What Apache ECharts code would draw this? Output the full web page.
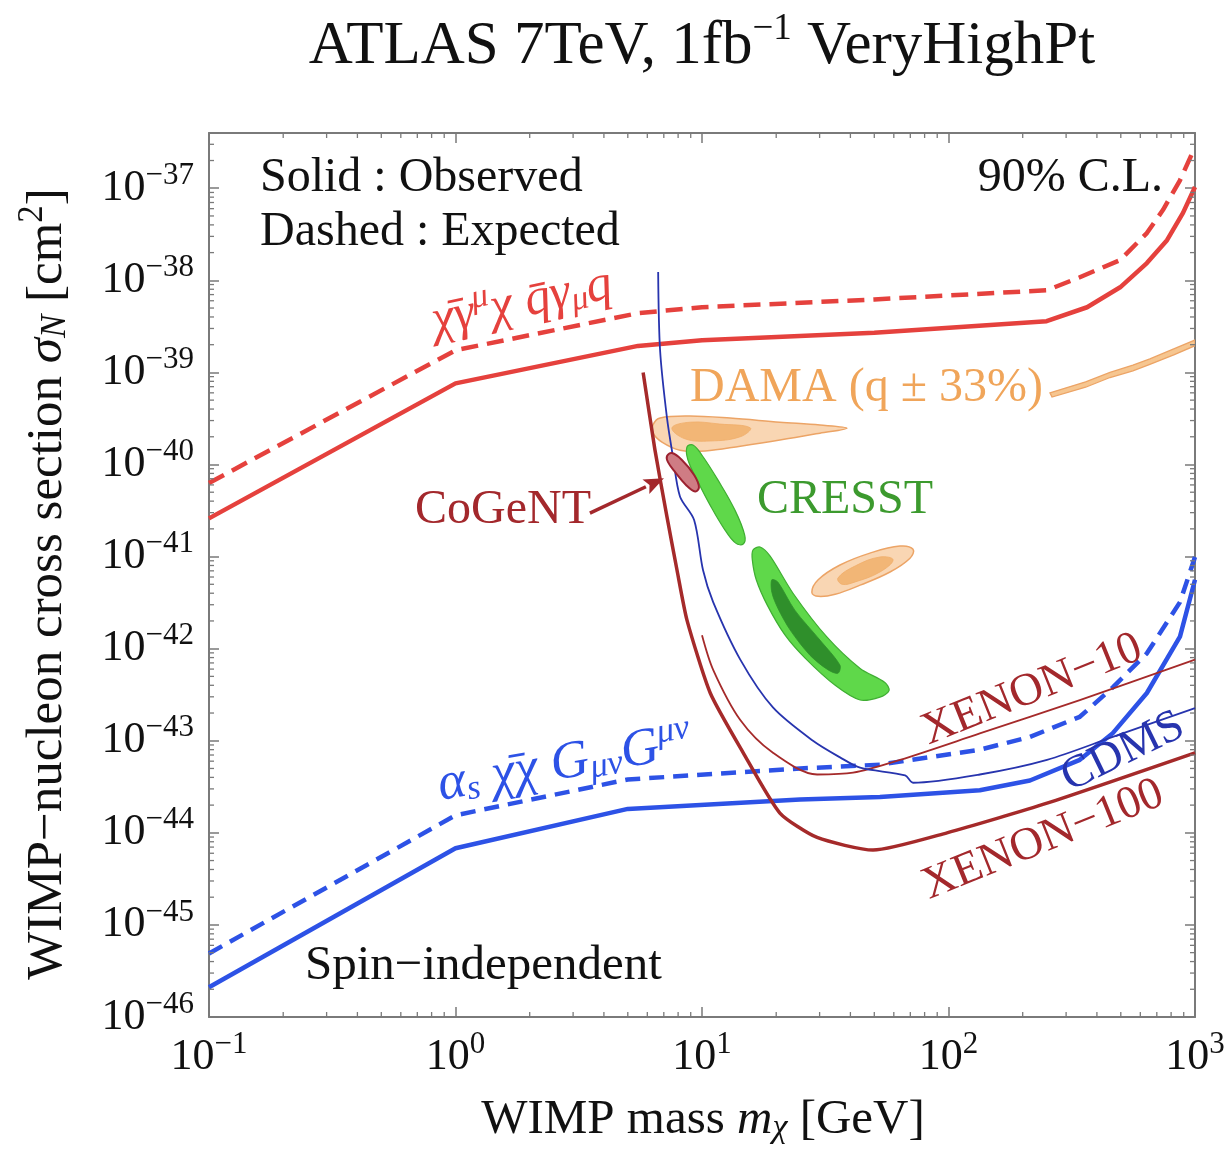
<!DOCTYPE html>
<html><head><meta charset="utf-8">
<script src="https://cdn.jsdelivr.net/npm/echarts@6/dist/echarts.min.js"></script>
<style>html,body{margin:0;padding:0;background:#fff}#c{width:1228px;height:1152px}</style>
</head><body><div id="c"></div>
<script>
// ---- axis ticks ----
const xTickExponents = [-1, 0, 1, 2, 3];
const yTickExponents = [-46, -45, -44, -43, -42, -41, -40, -39, -38, -37];
const yTopValue = 3.98e-37;

// ---- limit curves [mass GeV, sigma cm^2] ----
const vectorObserved = [[0.1,2.6e-41],[1,7.6e-40],[5.5,1.94e-39],[10,2.24e-39],[50,2.7e-39],[250,3.6e-39],[365,5.1e-39],[497,8.4e-39],[638,1.54e-38],[770,2.73e-38],[894,5.4e-38],[1000,1.03e-37]];
const vectorExpected = [[0.1,6.3e-41],[1,1.74e-39],[5.5,4.4e-39],[10,5.1e-39],[50,6.2e-39],[251,7.8e-39],[341,1.08e-38],[497,1.66e-38],[638,3.26e-38],[741,5.8e-38],[869,1.22e-37],[1000,2.8e-37]];
const gluonObserved = [[0.1,2.1e-46],[1,6.8e-45],[5,1.82e-44],[25,2.3e-44],[52.7,2.45e-44],[134,2.9e-44],[214,3.7e-44],[341,6.2e-44],[464,1.21e-43],[638,3.3e-43],[869,1.35e-42],[1000,5.6e-42]];
const gluonExpected = [[0.1,4.9e-46],[1,1.55e-44],[5,3.8e-44],[25,5.0e-44],[52.7,5.5e-44],[134,8.0e-44],[214,1.1e-43],[341,1.82e-43],[464,3.8e-43],[638,8.9e-43],[869,3.2e-42],[1000,9.9e-42]];
const xenon100 = [[5.77,1.0e-39],[6.44,1.45e-40],[7.21,2.7e-41],[7.92,7.1e-42],[8.69,2.04e-42],[10.8,3.3e-43],[14.7,7.4e-44],[20.7,1.64e-44],[29.3,8.9e-45],[49.4,6.5e-45],[98.6,1.0e-44],[251,2.1e-44],[1000,7.4e-44]];
const xenon10 = [[10,1.4e-42],[11.1,5.9e-43],[14.3,1.68e-43],[19.4,7.4e-44],[29.3,4.3e-44],[41,4.5e-44],[63.6,6.2e-44],[134,1.2e-43],[341,2.76e-43],[1000,7.6e-43]];
const cdms = [[6.64,1.23e-38],[6.76,1.74e-39],[7.21,3.2e-40],[7.63,1.2e-40],[8.14,4.5e-41],[9.29,2.5e-41],[10.1,7.1e-42],[11.1,3.2e-42],[14.3,7.6e-43],[19.4,2.3e-43],[28.2,1.0e-43],[36.3,6.6e-44],[43.8,5.1e-44],[66.7,4.2e-44],[71.8,3.5e-44],[134,4.3e-44],[251,6.2e-44],[464,1.1e-43],[1000,2.26e-43]];

// ---- signal regions [mass GeV, sigma cm^2] ----
const damaLargeOuter = [[6.33,2.7e-40],[6.76,3.2e-40],[8.94,3.36e-40],[13.0,3.19e-40],[20.7,2.88e-40],[30.1,2.68e-40],[38.7,2.48e-40],[30.1,2.19e-40],[20.7,1.84e-40],[14.3,1.58e-40],[10.3,1.40e-40],[8.14,1.43e-40],[6.88,1.75e-40],[6.33,2.19e-40]];
const damaLargeInner = [[7.55,2.5e-40],[8.94,2.88e-40],[11.8,2.75e-40],[15.7,2.5e-40],[14.3,2.0e-40],[10.8,1.8e-40],[8.53,1.9e-40]];
const damaSmallOuter = [[27.9,4.1e-42],[29.6,5.6e-42],[36.3,8.1e-42],[48.0,1.09e-41],[63.5,1.30e-41],[71.8,1.20e-41],[69.8,9.6e-42],[57.9,6.8e-42],[43.8,4.9e-42],[34.7,3.9e-42],[29.6,3.7e-42]];
const damaSmallInner = [[35.6,5.85e-42],[41.8,7.9e-42],[52.7,9.9e-42],[59.6,9.2e-42],[52.7,6.8e-42],[41.8,5.3e-42],[37.0,5.0e-42]];
const damaBand = [[258,6.0e-40],[360,7.9e-40],[452,1.0e-39],[560,1.2e-39],[656,1.4e-39],[820,1.8e-39],[1000,2.25e-39],[1000,1.95e-39],[820,1.55e-39],[656,1.22e-39],[560,1.04e-39],[452,8.8e-40],[360,6.9e-40],[263,5.4e-40]];
const cresstUpper = [[8.69,1.55e-40],[9.19,1.63e-40],[10.0,1.26e-40],[11.6,6.8e-41],[13.6,3.2e-41],[14.9,1.71e-41],[14.7,1.37e-41],[13.7,1.40e-41],[12.4,1.94e-41],[10.8,3.6e-41],[9.55,6.8e-41],[8.77,1.12e-40]];
const cresstLower = [[16.1,1.18e-41],[17.2,1.27e-41],[18.9,1.01e-41],[23.4,4.0e-42],[32.1,1.34e-42],[43.8,6.1e-43],[55.2,4.3e-43],[57.4,3.5e-43],[52.7,2.98e-43],[43.8,2.77e-43],[34.7,4.0e-43],[26.2,7.9e-43],[21.7,1.41e-42],[18.4,2.97e-42],[16.6,5.6e-42],[16.0,9.2e-42]];
const cresstCore = [[19.2,5.6e-42],[20.3,5.3e-42],[23.8,2.62e-42],[30.1,1.24e-42],[36.3,6.6e-43],[35.6,5.4e-43],[32.4,5.9e-43],[27.4,8.5e-43],[22.8,1.59e-42],[20.3,2.76e-42],[19.2,4.1e-42]];
const cogent = [[7.21,1.23e-40],[7.55,1.33e-40],[8.29,1.12e-40],[9.29,7.7e-41],[9.72,5.7e-41],[9.38,5.1e-41],[8.61,6.0e-41],[7.77,8.3e-41],[7.28,1.06e-40]];
const cogentArrow = [[3.51,2.96e-41],[7.01,7.1e-41]];

const L = Math.log10;
const SERIF = '"Liberation Serif","DejaVu Serif",serif';
const FRAME = '#7a7a7a';
const xMinE = xTickExponents[0], xMaxE = xTickExponents[xTickExponents.length - 1];
const yMinE = yTickExponents[0], yMaxE = L(yTopValue);
const isInt = v => Math.abs(v - Math.round(v)) < 1e-6;
const expStr = v => { const r = Math.round(v); return r < 0 ? '\u2212' + (-r) : '' + r; };

const xMinorValues = [], yMinorValues = [];
for (let i = 0; i < xTickExponents.length - 1; i++)
  for (let k = 2; k <= 9; k++) xMinorValues.push(k * Math.pow(10, xTickExponents[i]));
for (let i = 0; i < yTickExponents.length; i++)
  for (let k = 2; k <= 9; k++) { const v = k * Math.pow(10, yTickExponents[i]); if (L(v) < yMaxE) yMinorValues.push(v); }

const tickRich = {
  b: { fontSize: 44, fontFamily: SERIF, color: '#111' },
  s: { fontSize: 31, fontFamily: SERIF, color: '#111', padding: [0, 0, 25, 0] }
};
const labelFmt = v => isInt(v) ? '{b|10}{s|' + expStr(v) + '}' : '';

function axisCommon(extra) {
  return Object.assign({
    type: 'value', splitLine: { show: false },
    axisLine: { show: true, onZero: false, lineStyle: { color: FRAME, width: 2 } },
    axisTick: { show: true, inside: true, length: 10, lineStyle: { color: FRAME, width: 1.5 } },
    minorTick: { show: false }
  }, extra);
}

function minorTicks(values, dim) {
  return {
    type: 'custom', coordinateSystem: 'cartesian2d', silent: true, clip: false, z: 6,
    data: values.map(v => dim === 'x' ? [L(v), yMinE] : [xMinE, L(v)]),
    renderItem(params, api) {
      const cs = params.coordSys;
      const p = api.coord([api.value(0), api.value(1)]);
      const style = { stroke: FRAME, lineWidth: 1.3 };
      if (dim === 'x') {
        const yb = cs.y + cs.height;
        return { type: 'group', children: [
          { type: 'line', shape: { x1: p[0], y1: yb, x2: p[0], y2: yb - 5 }, style },
          { type: 'line', shape: { x1: p[0], y1: cs.y, x2: p[0], y2: cs.y + 5 }, style }
        ]};
      }
      const xr = cs.x + cs.width;
      return { type: 'group', children: [
        { type: 'line', shape: { x1: cs.x, y1: p[1], x2: cs.x + 5, y2: p[1] }, style },
        { type: 'line', shape: { x1: xr, y1: p[1], x2: xr - 5, y2: p[1] }, style }
      ]};
    }
  };
}

function region(points, fill, stroke, lw, smooth, z) {
  return {
    type: 'custom', coordinateSystem: 'cartesian2d', silent: true, clip: true, z: z || 2,
    data: [[L(points[0][0]), L(points[0][1])]],
    renderItem(params, api) {
      return { type: 'polygon',
        shape: { points: points.map(p => api.coord([L(p[0]), L(p[1])])), smooth: smooth },
        style: { fill: fill, stroke: stroke, lineWidth: lw } };
    }
  };
}

function curve(data, color, width, dash, smooth) {
  return {
    type: 'line', data: data.map(p => [L(p[0]), L(p[1])]), symbol: 'none', showSymbol: false,
    smooth: smooth || false, silent: true, z: 4, clip: true,
    lineStyle: { color: color, width: width, type: dash || 'solid', cap: 'butt', join: 'round' }
  };
}

const arrowSeries = {
  type: 'custom', coordinateSystem: 'cartesian2d', silent: true, clip: false, z: 5,
  data: [[L(cogentArrow[0][0]), L(cogentArrow[0][1])]],
  renderItem(params, api) {
    const a = api.coord([L(cogentArrow[0][0]), L(cogentArrow[0][1])]);
    const b = api.coord([L(cogentArrow[1][0]), L(cogentArrow[1][1])]);
    const dx = b[0] - a[0], dy = b[1] - a[1], len = Math.hypot(dx, dy);
    const ux = dx / len, uy = dy / len, hl = 20, hw = 8;
    const bx = b[0] - ux * hl, by = b[1] - uy * hl;
    return { type: 'group', children: [
      { type: 'line', shape: { x1: a[0], y1: a[1], x2: bx, y2: by }, style: { stroke: '#a3282c', lineWidth: 3.5 } },
      { type: 'polygon', shape: { points: [[b[0], b[1]], [bx - uy * hw, by + ux * hw], [bx + ux * 4, by + uy * 4], [bx + uy * hw, by - ux * hw]] }, style: { fill: '#a3282c' } }
    ]};
  }
};

function txt(text, x, y, size, color, align, extra) {
  return Object.assign({ type: 'text', x: x, y: y, z: 20,
    style: { text: text, font: size + 'px ' + SERIF, fill: color, align: align || 'left', verticalAlign: 'middle' } }, extra || {});
}
function rtxt(text, x, y, rich, rotDeg, align) {
  return { type: 'text', x: x, y: y, z: 20, rotation: (rotDeg || 0) * Math.PI / 180,
    style: { text: text, rich: rich, align: align || 'center', verticalAlign: 'middle' } };
}
const R = (size, color, extra) => Object.assign({ fontSize: size, fontFamily: SERIF, fill: color }, extra || {});

const chart = echarts.init(document.getElementById('c'), null, { renderer: 'canvas' });
chart.setOption({
  animation: false,
  backgroundColor: '#fff',
  grid: { left: 209, top: 133, right: 33, bottom: 135, containLabel: false, outerBoundsMode: 'none' },
  xAxis: [
    axisCommon({ position: 'bottom', min: xMinE, max: xMaxE, interval: 1,
      axisLabel: { formatter: labelFmt, rich: tickRich, margin: 12 } }),
    axisCommon({ position: 'top', min: xMinE, max: xMaxE, interval: 1, axisLabel: { show: false } })
  ],
  yAxis: [
    axisCommon({ position: 'left', min: yMinE, max: yMaxE, interval: 1,
      axisLabel: { formatter: labelFmt, rich: tickRich, margin: 15 } }),
    axisCommon({ position: 'right', min: yMinE, max: yMaxE, interval: 1, axisLabel: { show: false } })
  ],
  series: [
    region(damaLargeOuter, '#f9d6b3', '#eca466', 1.5, 0.35),
    region(damaLargeInner, '#f2b676', '#f0ad6a', 0.8, 0.4),
    region(damaSmallOuter, '#f9d6b3', '#eca466', 1.5, 0.4),
    region(damaSmallInner, '#f2b676', '#f0ad6a', 0.8, 0.4),
    region(damaBand, '#f6c690', '#eca466', 1.3, 0),
    region(cresstUpper, '#5fd84a', '#3fae32', 1.2, 0.4),
    region(cresstLower, '#5fd84a', '#3fae32', 1.2, 0.3),
    region(cresstCore, '#2f8f2b', '#2f8f2b', 0.8, 0.3),
    region(cogent, '#cf7c84', '#9c2230', 2, 0.4, 5),
    curve(vectorExpected, '#e5413d', 4.5, [17, 9]),
    curve(vectorObserved, '#e5413d', 4.5),
    curve(gluonExpected, '#2d52e6', 4.5, [15, 9]),
    curve(gluonObserved, '#2d52e6', 4.5),
    curve(xenon100, '#a52a2a', 3.5, null, 0.2),
    curve(xenon10, '#a52a2a', 1.8, null, 0.3),
    curve(cdms, '#2734ae', 1.8, null, 0.3),
    arrowSeries,
    minorTicks(xMinorValues, 'x'),
    minorTicks(yMinorValues, 'y')
  ],
  graphic: [
    rtxt('{t|ATLAS 7TeV, 1fb}{s|\u22121}{t| VeryHighPt}', 702, 47,
      { t: R(61, '#111'), s: R(37, '#111', { padding: [0, 0, 36, 0] }) }),
    rtxt('{t|WIMP\u2212nucleon cross section }{i|\u03c3}{b|N}{t| [cm}{p|2}{t|]}', 48, 584,
      { t: R(51, '#111'), i: R(51, '#111', { fontStyle: 'italic' }), b: R(35, '#111', { fontStyle: 'italic', padding: [16, 0, 0, 0] }), p: R(35, '#111', { padding: [0, 0, 30, 0] }) }, 90),
    rtxt('{t|WIMP mass }{i|m}{b|\u03c7}{t| [GeV]}', 703, 1120,
      { t: R(49, '#111'), i: R(49, '#111', { fontStyle: 'italic' }), b: R(34, '#111', { fontStyle: 'italic', padding: [16, 0, 0, 0] }) }),
    txt('Solid : Observed', 260, 178, 48, '#111'),
    txt('Dashed : Expected', 260, 232, 48, '#111'),
    txt('90% C.L.', 1163, 178, 48, '#111', 'right'),
    txt('Spin\u2212independent', 305, 966, 49, '#111'),
    txt('DAMA (q \u00b1 33%)', 690, 388, 48, '#f0a55a'),
    txt('CRESST', 757, 500, 48, '#3c9a2e'),
    txt('CoGeNT', 415, 510, 48, '#a3282c'),
    rtxt('{t|XENON\u221210}', 1032, 690, { t: R(46, '#a3282c') }, 22),
    rtxt('{t|CDMS}', 1123, 752, { t: R(46, '#2734ae') }, 26),
    rtxt('{t|XENON\u2212100}', 1043, 840, { t: R(46, '#a3282c') }, 22),
    rtxt('{m|\u03c7\u0304\u03b3}{p|\u03bc}{m|\u03c7 q\u0304\u03b3}{b|\u03bc}{m|q}', 522, 303,
      { m: R(51, '#e5413d', { fontStyle: 'italic' }), p: R(34, '#e5413d', { fontStyle: 'italic', padding: [0, 0, 28, 0] }), b: R(34, '#e5413d', { fontStyle: 'italic', padding: [18, 0, 0, 0] }) }, 12),
    rtxt('{m|\u03b1}{b|s}{m| \u03c7\u0304\u03c7 G}{b|\u03bc\u03bd}{m|G}{p|\u03bc\u03bd}', 565, 764,
      { m: R(53, '#2d52e6', { fontStyle: 'italic' }), p: R(35, '#2d52e6', { fontStyle: 'italic', padding: [0, 0, 28, 0] }), b: R(35, '#2d52e6', { fontStyle: 'italic', padding: [18, 0, 0, 0] }) }, 10)
  ]
});
</script>
</body></html>
